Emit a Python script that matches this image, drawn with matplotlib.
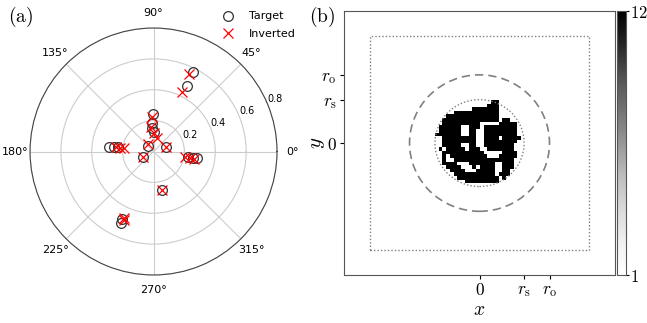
import numpy as np
import matplotlib
matplotlib.use('Agg')
import matplotlib.pyplot as plt
from matplotlib.patches import Circle, Rectangle

plt.rcParams['mathtext.fontset'] = 'cm'

# ---------------- data: panel (a) ----------------
target_theta_deg = [63.5, 63.1, 90.3, 92.4, 94.0, 88.0, 132.0, 21.5, 208.0,
                    174.0, 173.0, 173.0, 351.0, 351.0, 351.0, 282.0, 245.4, 244.9]
target_r = [0.575, 0.474, 0.246, 0.182, 0.150, 0.124, 0.050, 0.085, 0.079,
            0.293, 0.261, 0.233, 0.228, 0.257, 0.284, 0.254, 0.509, 0.483]
inverted_theta_deg = [65.2, 64.3, 92.0, 96.0, 90.0, 76.0, 126.0, 21.5, 208.0,
                      173.6, 173.6, 173.6, 350.0, 350.0, 350.0, 282.0, 246.7, 246.0]
inverted_r = [0.551, 0.428, 0.225, 0.161, 0.117, 0.088, 0.057, 0.085, 0.079,
              0.245, 0.218, 0.190, 0.210, 0.238, 0.265, 0.254, 0.481, 0.470]
r_ticks = [0.2, 0.4, 0.6, 0.8]
theta_ticks_deg = [0, 45, 90, 135, 180, 225, 270, 315]

# ---------------- data: panel (b) ----------------
r_s = 1.0
r_o = 1.57
box_half = 2.46
lim = 3.04
pattern_rows = [
    "...............##.......",
    "..............###.......",
    "..........#######.......",
    ".....############.......",
    "...##############.......",
    "..###############.##....",
    "..##########.....#####..",
    ".######..###.#########..",
    ".######..##..#########..",
    "#######..##..#########..",
    "..#########..####.#####.",
    "..#########..#########..",
    "..#####..##..########...",
    ".#.#####.###..#######...",
    "..###########.....####..",
    "..#.##########...#####..",
    "..#..################...",
    "..####...#######..###...",
    "...####...#.####..###...",
    "....####...#####..##....",
    ".....###########.###....",
    "......###########.#.....",
    "........#########.......",
    "........................",
]
cell_values = {'#': 12, '.': 1}
cbar_ticks = [1, 12]

grid = np.array([[cell_values[c] for c in row] for row in pattern_rows], dtype=float)

fig = plt.figure(figsize=(6.47, 3.23), dpi=100)

# ---------------- panel (a) ----------------
ax = fig.add_axes([0.0464, 0.1486, 0.3818, 0.7647], projection='polar')
ax.plot(np.deg2rad(target_theta_deg), target_r, ls='none', marker='o', mfc='none',
        mec='#333333', ms=7, mew=0.9, label='Target')
ax.plot(np.deg2rad(inverted_theta_deg), inverted_r, ls='none', marker='x',
        color='red', ms=7.5, mew=0.9, label='Inverted')
ax.set_ylim(0, 0.8)
ax.set_rticks(r_ticks)
ax.set_rlabel_position(22.5)
ax.set_thetagrids(theta_ticks_deg, labels=[f'{t}°' for t in theta_ticks_deg])
ax.tick_params(axis='x', labelsize=8, pad=0.5)
ax.tick_params(axis='y', labelsize=7)
ax.grid(color='#cccccc', lw=0.8)
ax.spines['polar'].set_color('#444444')
ax.legend(loc='upper right', bbox_to_anchor=(1.095, 1.085), frameon=False, fontsize=8,
          handletextpad=0.9, borderaxespad=0.0, labelspacing=0.7)

fig.text(0.012, 0.985, r'$\mathrm{(a)}$', fontsize=14, va='top', ha='left')
fig.text(0.478, 0.985, r'$\mathrm{(b)}$', fontsize=14, va='top', ha='left')

# ---------------- panel (b) ----------------
axb = fig.add_axes([0.5317, 0.148, 0.4189, 0.818])
im = axb.imshow(grid, cmap='Greys', vmin=1, vmax=12, extent=[-r_s, r_s, -r_s, r_s],
                interpolation='nearest', origin='upper', aspect='auto')
axb.add_patch(Circle((0, 0), r_s, fill=False, ls=(0, (1, 1.5)), ec='gray', lw=1))
axb.add_patch(Circle((0, 0), r_o, fill=False, ls=(0, (5, 3)), ec='gray', lw=1.2))
axb.add_patch(Rectangle((-box_half, -box_half), 2 * box_half, 2 * box_half,
                        fill=False, ls=(0, (1, 1.5)), ec='gray', lw=1))
axb.set_xlim(-lim, lim)
axb.set_ylim(-lim, lim)
tick_pos = [0, r_s, r_o]
tick_lab = ['$0$', r'$r_\mathrm{s}$', r'$r_\mathrm{o}$']
axb.set_xticks(tick_pos)
axb.set_xticklabels(tick_lab, fontsize=12.5)
axb.set_yticks(tick_pos)
axb.set_yticklabels(tick_lab, fontsize=12.5)
axb.tick_params(length=3, width=0.8, pad=2)
axb.tick_params(axis='x', pad=1.5)
axb.set_xlabel('$x$', fontsize=14, labelpad=0.5)
axb.set_ylabel('$y$', fontsize=15, labelpad=-4)
for sp in axb.spines.values():
    sp.set_color('#555555')

cax = fig.add_axes([0.9536, 0.148, 0.0139, 0.818])
cb = fig.colorbar(im, cax=cax, ticks=cbar_ticks)
cb.ax.set_yticklabels([f'${t}$' for t in cbar_ticks], fontsize=12)
cb.ax.tick_params(length=2, pad=1)
cb.outline.set_edgecolor('#555555')

fig.savefig('out.png', dpi=100)
